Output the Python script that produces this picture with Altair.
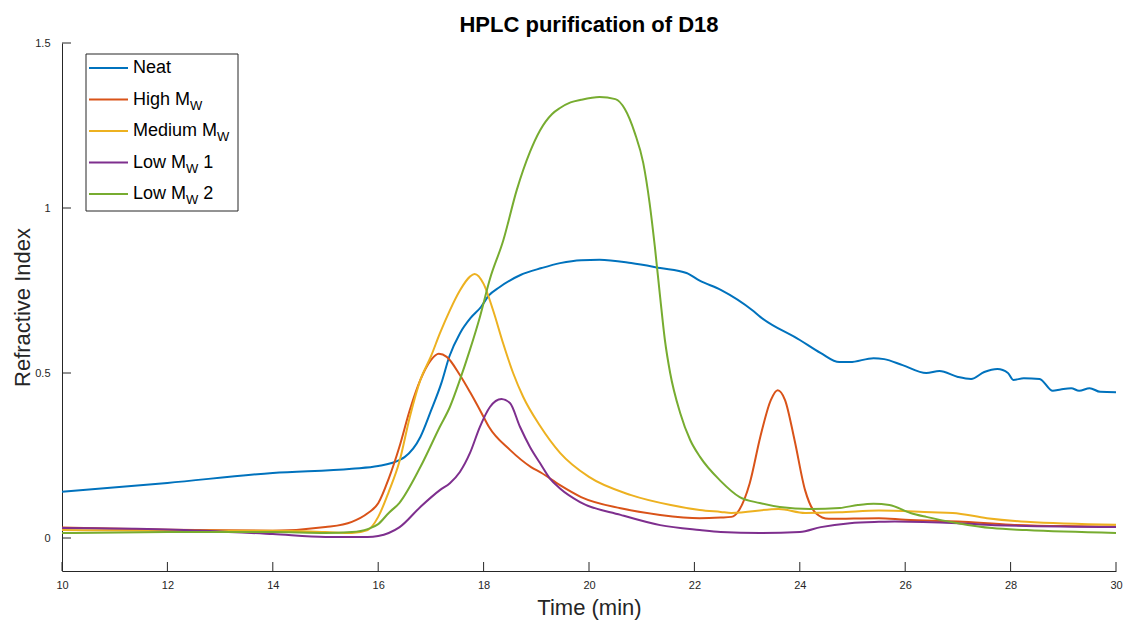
import altair as alt
import pandas as pd

# ---------------- data ----------------
SERIES = ["Neat", "High MW", "Medium MW", "Low MW 1", "Low MW 2"]
COLORS = ["#0072BD", "#D95319", "#EDB120", "#7E2F8E", "#77AC30"]

NEAT_T = [10, 12, 14, 15.5, 16, 16.4, 16.5, 16.8, 17.0, 17.2, 17.35, 17.55, 17.75, 17.95, 18.1, 18.3,
          18.7, 19.1, 19.45, 19.85, 20.2, 20.8, 21.35, 21.85, 22.1, 22.5, 23.1, 23.25, 24.0, 24.4,
          24.75, 24.95, 25.4, 25.6, 25.95, 26.4, 26.65, 27.0, 27.25, 27.5, 27.75, 27.95, 28.05,
          28.25, 28.55, 28.8, 28.95, 29.15, 29.3, 29.5, 29.7, 30]
NEAT_V = [0.14, 0.167, 0.197, 0.21, 0.218, 0.236, 0.245, 0.306, 0.385, 0.47, 0.55, 0.62, 0.666,
          0.70, 0.735, 0.76, 0.797, 0.818, 0.833, 0.842, 0.843, 0.833, 0.818, 0.803, 0.78, 0.752,
          0.69, 0.67, 0.60, 0.56, 0.533, 0.533, 0.545, 0.542, 0.524, 0.50, 0.506, 0.488, 0.482,
          0.503, 0.512, 0.50, 0.479, 0.484, 0.482, 0.446, 0.45, 0.454, 0.446, 0.454, 0.443, 0.442]

HIGH_T = [10, 12, 14, 15, 15.5, 15.8, 16.0, 16.2, 16.4, 16.6, 16.8, 17.0, 17.15, 17.3, 17.55, 17.75,
          17.95, 18.1, 18.5, 18.9, 19.1, 19.45, 19.85, 20.6, 21.35, 22.1, 22.5, 22.7, 22.85, 23.05,
          23.25, 23.45, 23.58, 23.72, 23.9, 24.1, 24.3, 24.55, 25.5, 26, 27, 28, 29, 30]
HIGH_V = [0.032, 0.025, 0.022, 0.033, 0.049, 0.075, 0.105, 0.18, 0.275, 0.388, 0.479, 0.539, 0.558,
          0.549, 0.494, 0.44, 0.382, 0.337, 0.267, 0.215, 0.197, 0.16, 0.124, 0.09, 0.07, 0.06,
          0.062, 0.064, 0.085, 0.166, 0.306, 0.418, 0.448, 0.418, 0.297, 0.145, 0.076, 0.058, 0.06,
          0.055, 0.05, 0.04, 0.036, 0.035]

MED_T = [10, 12, 14, 15, 15.5, 15.8, 16.0, 16.2, 16.4, 16.6, 16.8, 17.0, 17.17, 17.36, 17.55, 17.74,
         17.83, 18.0, 18.18, 18.37, 18.56, 18.75, 19.07, 19.45, 20.0, 20.8, 21.55, 22.1, 22.5, 22.7,
         23.6, 24.1, 24.75, 25.5, 26.5, 26.9, 27.55, 28.3, 30]
MED_V = [0.024, 0.022, 0.022, 0.018, 0.015, 0.024, 0.064, 0.14, 0.23, 0.367, 0.479, 0.55, 0.62, 0.69,
         0.75, 0.792, 0.80, 0.77, 0.69, 0.59, 0.50, 0.428, 0.34, 0.258, 0.185, 0.13, 0.10, 0.085,
         0.079, 0.076, 0.088, 0.076, 0.078, 0.083, 0.078, 0.076, 0.06, 0.049, 0.04]

LOW1_T = [10, 12, 14, 15, 15.8, 16.0, 16.2, 16.4, 16.8, 17.17, 17.36, 17.55, 17.74, 17.93, 18.12,
          18.34, 18.5, 18.69, 18.88, 19.07, 19.26, 19.45, 19.83, 20.6, 21.35, 22.1, 22.5, 23.25,
          24.0, 24.4, 24.95, 25.5, 25.8, 27.0, 27.7, 30]
LOW1_V = [0.03, 0.026, 0.012, 0.003, 0.003, 0.006, 0.015, 0.032, 0.094, 0.145, 0.166, 0.2, 0.257,
          0.337, 0.397, 0.421, 0.409, 0.337, 0.276, 0.227, 0.18, 0.15, 0.109, 0.07, 0.039, 0.024,
          0.018, 0.015, 0.018, 0.033, 0.045, 0.049, 0.05, 0.045, 0.039, 0.033]

LOW2_T = [10, 12, 14, 15, 15.5, 15.8, 16.0, 16.2, 16.4, 16.8, 17.17, 17.36, 17.55, 17.74, 17.93,
          18.12, 18.37, 18.63, 18.88, 19.07, 19.3, 19.45, 19.65, 19.85, 20.2, 20.5, 20.68, 20.87,
          21.03, 21.15, 21.25, 21.35, 21.44, 21.54, 21.73, 21.92, 22.11, 22.49, 22.86, 23.24, 23.62,
          24.2, 24.76, 25.1, 25.4, 25.7, 26.1, 26.4, 27.0, 27.65, 28.3, 30]
LOW2_V = [0.015, 0.018, 0.018, 0.015, 0.018, 0.027, 0.042, 0.076, 0.106, 0.215, 0.337, 0.397, 0.479,
          0.57, 0.67, 0.785, 0.9, 1.055, 1.17, 1.235, 1.285, 1.303, 1.32, 1.328, 1.336, 1.33, 1.30,
          1.227, 1.136, 1.015, 0.882, 0.73, 0.60, 0.50, 0.379, 0.297, 0.245, 0.174, 0.124, 0.106,
          0.094, 0.088, 0.091, 0.1, 0.104, 0.1, 0.076, 0.064, 0.045, 0.03, 0.024, 0.015]

X_TICKS = [10, 12, 14, 16, 18, 20, 22, 24, 26, 28, 30]
Y_TICKS = [0, 0.5, 1, 1.5]

TITLE = ["HPLC purification of D18"]
LEGEND_MAIN = ["Neat", "High M", "Medium M", "Low M", "Low M"]
LEGEND_SUB = ["", "W", "W", "W", "W"]
LEGEND_SUFFIX = ["", "", "", "1", "2"]

# ---------------- build tables ----------------
rows = []
for name, ts, vs in zip(SERIES, [NEAT_T, HIGH_T, MED_T, LOW1_T, LOW2_T],
                        [NEAT_V, HIGH_V, MED_V, LOW1_V, LOW2_V]):
    for t, v in zip(ts, vs):
        rows.append({"series": name, "t": t, "v": v})
df = pd.DataFrame(rows)
legdf = pd.DataFrame({"series": SERIES, "main": LEGEND_MAIN, "sub": LEGEND_SUB,
                      "suf": LEGEND_SUFFIX})

FONT = "Liberation Sans"
INK = "#262626"
# plot area: 1054 x 528, placed 62 px from the left and 43 px from the top
W, H, TOP = 1054, 528, 43
VIEW_W, VIEW_H = 1064, TOP + H
MAIN_FS, SUB_FS = 18, 13

# Arial / Liberation Sans advance widths (per 1000 em) for legend layout
AW = {'N': 722, 'e': 556, 'a': 556, 't': 278, 'H': 722, 'i': 222, 'g': 556, 'h': 556, ' ': 278,
      'M': 833, 'd': 556, 'u': 556, 'm': 833, 'L': 556, 'o': 556, 'w': 722, 'W': 944, '1': 556,
      '2': 556}


def tw(s, fs):
    return sum(AW.get(c, 556) for c in s) * fs / 1000.0


xscale = alt.Scale(domain=[10, 30], range=[0, W], nice=False, zero=False)
yscale = alt.Scale(domain=[-0.1, 1.5], range=[TOP + H, TOP], nice=False, zero=False)
cscale = alt.Scale(domain=SERIES, range=COLORS)

lines = alt.Chart(df).mark_line(strokeWidth=2, interpolate="monotone").encode(
    x=alt.X("t:Q", scale=xscale,
            axis=alt.Axis(values=X_TICKS, tickSize=0, labelPadding=8, labelFontSize=11,
                          labelColor=INK, labelFont=FONT, domainColor=INK, grid=False,
                          title="Time (min)", titleFontSize=22, titleFont=FONT,
                          titleFontWeight="normal", titleColor=INK, titleX=W / 2, titleY=36,
                          titleBaseline="middle", labelFlush=False)),
    y=alt.Y("v:Q", scale=yscale,
            axis=alt.Axis(values=Y_TICKS, format="~g", tickSize=0, labelPadding=12,
                          labelFontSize=11, labelColor=INK, labelFont=FONT, domainColor=INK,
                          grid=False, title="Refractive Index", titleFontSize=22, titleFont=FONT,
                          titleFontWeight="normal", titleColor=INK, titleX=-40,
                          titleY=TOP + H / 2, titleBaseline="middle", titleAngle=-90,
                          labelFlush=False)),
    color=alt.Color("series:N", scale=cscale, legend=None),
    detail="series:N",
)

xt = alt.Chart(pd.DataFrame({"t": X_TICKS})).mark_rule(color=INK, strokeWidth=1).encode(
    x=alt.X("t:Q"), y=alt.value(TOP + H), y2=alt.value(TOP + H - 9))
yt = alt.Chart(pd.DataFrame({"v": Y_TICKS})).mark_rule(color=INK, strokeWidth=1).encode(
    y=alt.Y("v:Q"), x=alt.value(0), x2=alt.value(9))

title = alt.Chart(pd.DataFrame({"title": TITLE})).mark_text(
    font=FONT, fontSize=22, fontWeight="bold", color="black", align="center",
    baseline="middle").encode(x=alt.value(W / 2), y=alt.value(25), text="title:N")

# ---------------- custom legend (layout in pixels) ----------------
LX0, LX1, LTX = 27, 66, 71
ROW0, ROWSTEP = TOP + 25, 31.5
one = pd.DataFrame({"k": [0]})
legend_layers = [
    alt.Chart(one).mark_rect(fill="white", stroke=INK, strokeWidth=1).encode(
        x=alt.value(24), x2=alt.value(176), y=alt.value(TOP + 11), y2=alt.value(TOP + 168))
]
for i, (name, m, s, suf) in enumerate(zip(SERIES, LEGEND_MAIN, LEGEND_SUB, LEGEND_SUFFIX)):
    ry = ROW0 + ROWSTEP * i
    base = alt.Chart(legdf).transform_filter(alt.datum.series == name)
    legend_layers.append(base.mark_rule(strokeWidth=2).encode(
        x=alt.value(LX0), x2=alt.value(LX1), y=alt.value(ry),
        color=alt.Color("series:N", scale=cscale, legend=None)))
    legend_layers.append(base.mark_text(align="left", baseline="middle", font=FONT,
                                        fontSize=MAIN_FS, color="black").encode(
        x=alt.value(LTX), y=alt.value(ry), text="main:N"))
    if s:
        subx = LTX + tw(m, MAIN_FS)
        legend_layers.append(base.mark_text(align="left", baseline="middle", font=FONT,
                                            fontSize=SUB_FS, color="black").encode(
            x=alt.value(subx), y=alt.value(ry + 6), text="sub:N"))
        if suf:
            sufx = subx + tw(s, SUB_FS) + tw(" ", MAIN_FS)
            legend_layers.append(base.mark_text(align="left", baseline="middle", font=FONT,
                                                fontSize=MAIN_FS, color="black").encode(
                x=alt.value(sufx), y=alt.value(ry), text="suf:N"))

chart = alt.layer(lines, xt, yt, title, *legend_layers).properties(
    width=VIEW_W, height=VIEW_H,
    background="white",
    autosize=alt.AutoSizeParams(type="none"),
    padding={"left": 62, "top": 0, "right": 0, "bottom": 51},
).configure_view(strokeWidth=0, stroke="transparent")

chart.save("out.html", embed_options={"renderer": "svg", "actions": False})
